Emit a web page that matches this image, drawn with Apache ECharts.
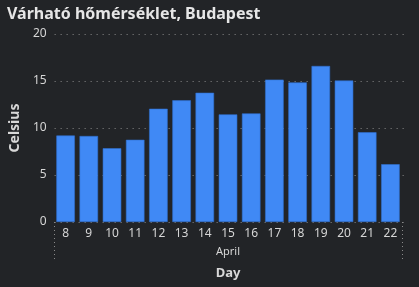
<!DOCTYPE html>
<html><head><meta charset="utf-8">
<script src="https://cdn.jsdelivr.net/npm/echarts@6/dist/echarts.min.js"></script>
<style>html,body{margin:0;padding:0;background:#222427;}#c{width:419px;height:287px;}</style>
</head><body><div id="c"></div>
<script>
const days = ['8','9','10','11','12','13','14','15','16','17','18','19','20','21','22'];
const month = ['April'];
const temps = [9.2, 9.15, 7.85, 8.75, 12.05, 12.95, 13.75, 11.45, 11.55, 15.15, 14.85, 16.6, 15.05, 9.55, 6.15];
const yTicks = {min: 0, max: 20, interval: 5};

const chart = echarts.init(document.getElementById('c'));
const font = '"Noto Sans", "Open Sans", sans-serif';
chart.setOption({
  backgroundColor: '#222427',
  animation: false,
  title: {
    text: 'Várható hőmérséklet, Budapest',
    left: 2, top: 1,
    textStyle: {color: '#e6e6e6', fontSize: 16, fontWeight: 'bold', fontFamily: font}
  },
  grid: [
    {left: 45, right: 11, top: 34, bottom: 65},
    {left: 54, right: 17, top: 34, bottom: 65}
  ],
  xAxis: [
    {gridIndex: 0, type: 'category', data: days, show: false},
    {gridIndex: 1, type: 'category', data: days, position: 'bottom',
     axisLine: {show: false}, axisTick: {show: false},
     axisLabel: {color: '#d6d6d6', fontSize: 12, fontFamily: font, margin: 6}},
    {gridIndex: 1, type: 'category', data: month, position: 'bottom',
     axisLine: {show: false},
     axisTick: {show: true, length: 38, lineStyle: {color: '#8a8a8a', type: [1, 3]}},
     axisLabel: {color: '#d6d6d6', fontSize: 11, fontFamily: font, margin: 24},
     name: 'Day', nameLocation: 'middle', nameGap: 45,
     nameTextStyle: {color: '#d8d8d8', fontSize: 13, fontWeight: 'bold', fontFamily: font}}
  ],
  yAxis: [
    {gridIndex: 0, type: 'value', min: yTicks.min, max: yTicks.max, interval: yTicks.interval,
     axisLine: {show: false}, axisTick: {show: false},
     axisLabel: {color: '#d6d6d6', fontSize: 12, fontFamily: font, margin: 8},
     splitLine: {show: true, lineStyle: {color: '#8a8a8a', type: [1, 5], width: 1}},
     name: 'Celsius', nameLocation: 'middle', nameRotate: 90, nameGap: 29,
     nameTextStyle: {color: '#d8d8d8', fontSize: 14, fontWeight: 'bold', fontFamily: font}},
    {gridIndex: 1, type: 'value', min: yTicks.min, max: yTicks.max, interval: yTicks.interval, show: false}
  ],
  series: [{
    type: 'bar', xAxisIndex: 1, yAxisIndex: 1, data: temps,
    barCategoryGap: '20%',
    itemStyle: {color: '#4089F5', borderColor: '#2f6fcf', borderWidth: 0.6}
  }]
});
</script></body></html>
